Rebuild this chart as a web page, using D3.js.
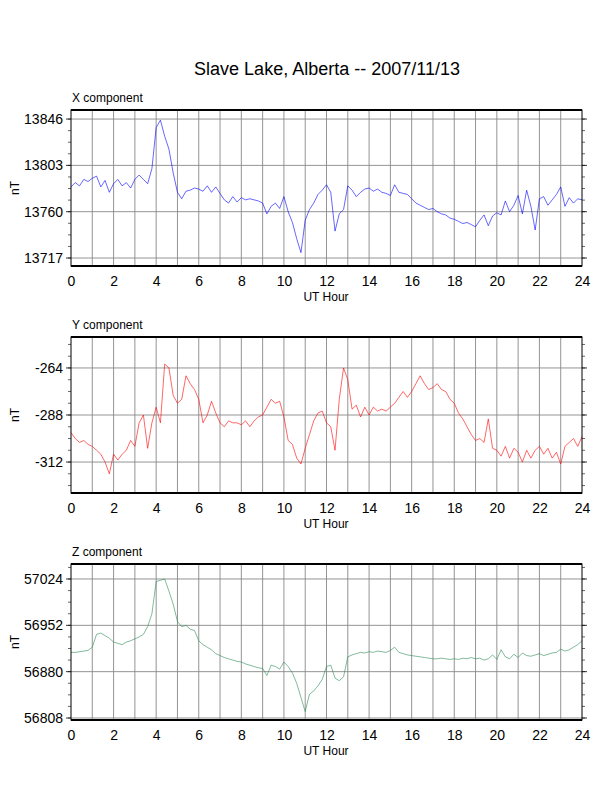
<!doctype html>
<html>
<head>
<style>
  body { margin: 0; background: #fff; }
  text { font-family: "Liberation Sans", Arial, sans-serif; }
</style>
</head>
<body>
<div id="chart"></div>
<script src="https://d3js.org/d3.v7.min.js"></script>
<script>

    // samples every 0.2 hour
    let hours = d3.range(0, 24.001, 0.2);

    let xComp = [13783, 13787, 13784, 13790, 13788, 13791, 13793, 13783, 13789, 13778,
        13786, 13790, 13784, 13787, 13782, 13790, 13794, 13790, 13786, 13800,
        13838, 13845, 13830, 13818, 13796, 13778, 13772, 13779, 13780, 13782,
        13781, 13779, 13784, 13778, 13783, 13777, 13771, 13768, 13774, 13769,
        13773, 13771, 13772, 13771, 13770, 13768, 13758, 13765, 13768, 13763,
        13774, 13760, 13750, 13735, 13722, 13752, 13762, 13768, 13776, 13780,
        13785, 13778, 13742, 13758, 13762, 13784, 13780, 13774, 13778, 13781,
        13782, 13779, 13781, 13778, 13777, 13775, 13785, 13778, 13777, 13776,
        13772, 13768, 13766, 13764, 13762, 13763, 13760, 13758, 13757, 13754,
        13753, 13751, 13749, 13750, 13748, 13746, 13752, 13757, 13747, 13756,
        13759, 13757, 13770, 13760, 13766, 13775, 13758, 13780, 13765, 13743,
        13772, 13774, 13766, 13771, 13776, 13783, 13765, 13773, 13768, 13772, 13771];

    let yComp = [-297, -300, -302, -301, -303, -304, -306, -308, -312, -318,
        -308, -311, -308, -306, -301, -304, -292, -288, -305, -292,
        -284, -292, -262, -264, -278, -282, -280, -268, -272, -275,
        -280, -292, -288, -281, -287, -292, -294, -291, -292, -292,
        -293, -291, -294, -291, -289, -288, -284, -280, -282, -281,
        -289, -301, -303, -310, -313, -305, -298, -291, -287, -286,
        -292, -294, -306, -280, -264, -270, -285, -283, -289, -284,
        -288, -284, -286, -285, -286, -284, -282, -279, -276, -279,
        -276, -272, -268, -272, -275, -274, -272, -275, -276, -280,
        -282, -287, -290, -294, -298, -301, -300, -302, -290, -305,
        -306, -309, -304, -310, -305, -307, -312, -306, -310, -306,
        -304, -308, -305, -310, -307, -313, -304, -302, -300, -304, -299];

    let zComp = [56910, 56910, 56911, 56912, 56913, 56918, 56938, 56940, 56936, 56932,
        56926, 56924, 56922, 56926, 56928, 56931, 56934, 56938, 56950, 56970,
        57020, 57022, 57024, 57005, 56985, 56958, 56950, 56952, 56946, 56944,
        56928, 56922, 56918, 56914, 56908, 56905, 56902, 56900, 56898, 56896,
        56895, 56892, 56890, 56888, 56886, 56885, 56874, 56890, 56888, 56884,
        56895, 56888, 56878, 56862, 56840, 56818, 56845, 56850, 56858, 56868,
        56888, 56890, 56870, 56866, 56872, 56903, 56906, 56908, 56910, 56909,
        56911, 56910, 56912, 56911, 56910, 56913, 56918, 56910, 56908, 56906,
        56905, 56904, 56903, 56902, 56901, 56900, 56900, 56901, 56900, 56899,
        56900, 56899, 56901, 56900, 56902, 56900, 56901, 56898, 56900, 56906,
        56899, 56914, 56903, 56900, 56907, 56902, 56909, 56905, 56904, 56906,
        56908, 56905, 56907, 56909, 56910, 56915, 56912, 56914, 56918, 56922, 56928];

    let panels = [
        {name: 'X component', values: xComp, color: '#0000ff', domain: [13709.6, 13854.4],
            ticks: [13717, 13760, 13803, 13846], minor: 43 / 4, top: 110},
        {name: 'Y component', values: yComp, color: '#ff0000', domain: [-327.8, -248.2],
            ticks: [-312, -288, -264], minor: 6, top: 337},
        {name: 'Z component', values: zComp, color: '#2e8b57', domain: [56804.9, 57047.3],
            ticks: [56808, 56880, 56952, 57024], minor: 18, top: 564}
    ];

    let left = 71, right = 582, plotH = 156;

    let svg = d3.select('#chart').append('svg')
        .attr('width', 612).attr('height', 792);

    svg.append('text')
        .attr('x', 327).attr('y', 75)
        .attr('text-anchor', 'middle')
        .attr('font-size', 18)
        .text('Slave Lake, Alberta -- 2007/11/13');

    let x = d3.scaleLinear().domain([0, 24]).range([left, right]);

    panels.forEach((p) => {
        let y = d3.scaleLinear().domain(p.domain).range([p.top + plotH, p.top]);
        let g = svg.append('g');

        // grid
        g.selectAll('.vg').data(d3.range(1, 24)).join('line')
            .attr('x1', (d) => x(d)).attr('x2', (d) => x(d))
            .attr('y1', p.top).attr('y2', p.top + plotH)
            .attr('stroke', '#888').attr('stroke-width', 0.9);
        g.selectAll('.hg').data(p.ticks).join('line')
            .attr('x1', left).attr('x2', right)
            .attr('y1', (d) => y(d)).attr('y2', (d) => y(d))
            .attr('stroke', '#888').attr('stroke-width', 0.9);

        // minor ticks on both sides
        let minors = [];
        for (let v = p.ticks[0] - p.minor * 4; v <= p.domain[1]; v += p.minor) {
            if (v >= p.domain[0]) minors.push(v);
        }
        [left, right].forEach((xe) => {
            let dir = xe === left ? -1 : 1;
            g.append('g').selectAll('line').data(minors).join('line')
                .attr('x1', xe).attr('x2', xe + dir * 3)
                .attr('y1', (d) => y(d)).attr('y2', (d) => y(d))
                .attr('stroke', '#000').attr('stroke-width', 0.6);
            g.append('g').selectAll('line').data(p.ticks).join('line')
                .attr('x1', xe).attr('x2', xe + dir * 5)
                .attr('y1', (d) => y(d)).attr('y2', (d) => y(d))
                .attr('stroke', '#000').attr('stroke-width', 0.8);
        });

        // the trace
        let line = d3.line().x((d, i) => x(hours[i])).y((d) => y(d));
        g.append('path').datum(p.values)
            .attr('d', line)
            .attr('fill', 'none')
            .attr('stroke', p.color)
            .attr('stroke-width', 0.6);

        // frame
        g.append('rect')
            .attr('x', left).attr('y', p.top)
            .attr('width', right - left).attr('height', plotH)
            .attr('fill', 'none').attr('stroke', '#000').attr('stroke-width', 1);
        g.append('line').attr('x1', left).attr('x2', right)
            .attr('y1', p.top).attr('y2', p.top)
            .attr('stroke', '#000').attr('stroke-width', 2);
        g.append('line').attr('x1', left).attr('x2', right)
            .attr('y1', p.top + plotH).attr('y2', p.top + plotH)
            .attr('stroke', '#000').attr('stroke-width', 2);

        // x ticks
        let xAxis = d3.axisBottom(x).tickValues(d3.range(0, 25, 2)).tickSize(0).tickPadding(10);
        let ax = g.append('g').attr('transform', `translate(0,${p.top + plotH})`).call(xAxis);
        ax.select('.domain').remove();
        ax.selectAll('text').attr('font-size', 14).attr('fill', '#000')
            .attr('font-family', '"Liberation Sans", Arial, sans-serif');

        // y tick labels
        g.selectAll('.yl').data(p.ticks).join('text')
            .attr('x', left - 8).attr('y', (d) => y(d) + 5)
            .attr('text-anchor', 'end').attr('font-size', 14)
            .text((d) => d);

        g.append('text').attr('x', 326).attr('y', p.top + plotH + 35)
            .attr('text-anchor', 'middle').attr('font-size', 12).text('UT Hour');
        g.append('text').attr('x', 72).attr('y', p.top - 8)
            .attr('font-size', 12).text(p.name);
        g.append('text')
            .attr('transform', `translate(19,${p.top + plotH / 2}) rotate(-90)`)
            .attr('text-anchor', 'middle').attr('font-size', 12).text('nT');
    });

</script>
</body>
</html>
